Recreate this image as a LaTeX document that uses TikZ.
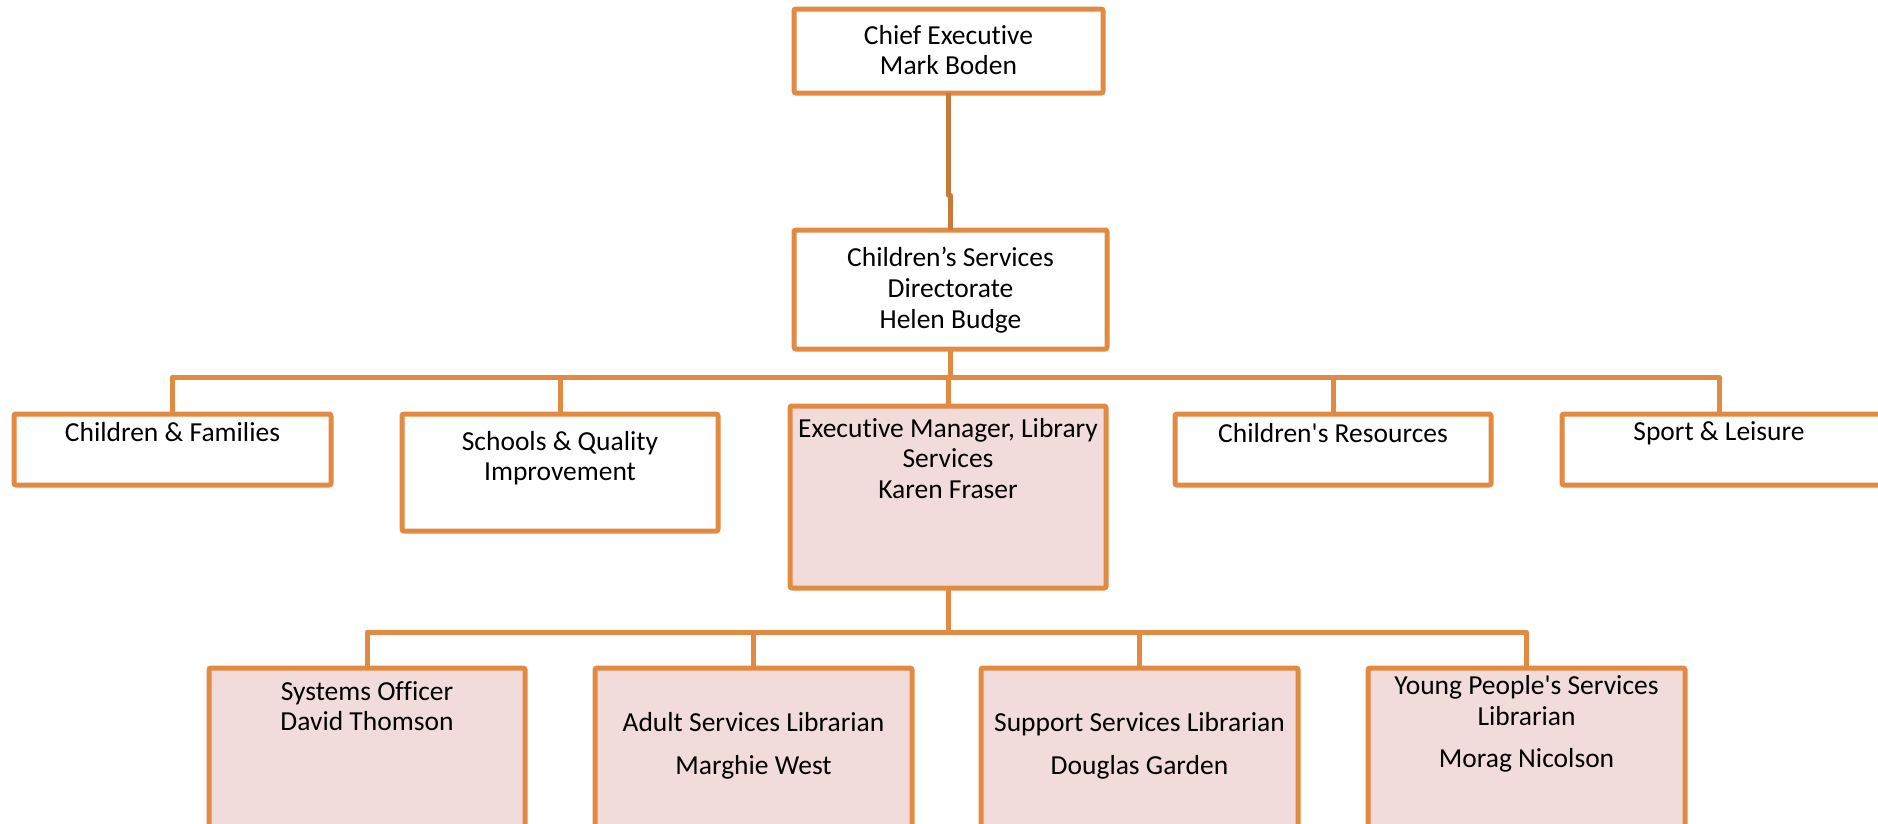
\documentclass[tikz,border=0pt]{standalone}
\usepackage{fontspec}
\setmainfont{Carlito}[Ligatures={NoCommon}]
\definecolor{org}{HTML}{E38A42}
\definecolor{orgdark}{HTML}{C97A38}
\definecolor{pinkfill}{HTML}{F2DCDB}
\tikzset{
  box/.style={draw=org, line width=5pt, rounded corners=2pt, inner sep=0pt, outer sep=0pt, fill=white},
  pbox/.style={box, fill=pinkfill},
  conn/.style={draw=org, line width=5pt, line join=round},
  conndark/.style={draw=orgdark, line width=5pt, line join=round},
  lbl/.style={anchor=north, inner sep=0pt, align=center, text=black, font=\fontsize{27.5pt}{30.7pt}\selectfont}
}
\newcommand{\strt}{\rule{0pt}{24pt}}
\begin{document}
\begin{tikzpicture}[x=1pt,y=-1pt]
\useasboundingbox (0,0) rectangle (1878,823);
% boxes
\node[box, minimum width=309pt, minimum height=84pt] (chief) at (948.5,51) {};
\node[box, minimum width=313pt, minimum height=119pt] (dir) at (950.5,289.5) {};
\node[box, minimum width=317pt, minimum height=71pt] (cf) at (172.5,449.5) {};
\node[box, minimum width=316pt, minimum height=117pt] (sq) at (560,472.5) {};
\node[pbox, minimum width=316pt, minimum height=182pt] (em) at (948,497) {};
\node[box, minimum width=316pt, minimum height=71pt] (cr) at (1333,449.5) {};
\node[box, minimum width=320pt, minimum height=71pt] (sp) at (1722,449.5) {};
\node[pbox, minimum width=316pt, minimum height=202pt] (so) at (367,769) {};
\node[pbox, minimum width=317pt, minimum height=202pt] (as) at (753.5,769) {};
\node[pbox, minimum width=317pt, minimum height=202pt] (ss) at (1139.5,769) {};
\node[pbox, minimum width=317pt, minimum height=202pt] (yp) at (1526.5,769) {};
% connectors
\coordinate (bus1) at (0,377);
\coordinate (bus2) at (0,632);
\draw[conndark] (chief.south) -- ++(0,102) -| (dir.north);
\draw[conn] (dir.south) -- (dir.south |- bus1);
\draw[conn] (cf.north) -- (cf.north |- bus1) -- ([xshift=-3pt]sp.north |- bus1) -- ([xshift=-3pt]sp.north);
\draw[conn] (sq.north) -- (sq.north |- bus1);
\draw[conn] (em.north) -- (em.north |- bus1);
\draw[conn] (cr.north) -- (cr.north |- bus1);
\draw[conn] (em.south) -- (em.south |- bus2);
\draw[conn] (so.north) -- (so.north |- bus2) -- (yp.north |- bus2) -- (yp.north);
\draw[conn] (as.north) -- (as.north |- bus2);
\draw[conn] (ss.north) -- (ss.north |- bus2);
% labels
\node[lbl] (tchief) at (948.5,20) {\strt Chief Executive\\Mark Boden};
\node[lbl] (tdir) at (950.5,242.7) {\strt Children’s Services\\Directorate\\Helen Budge};
\node[lbl] (tcf) at (172.5,417.7) {\strt Children \& Families};
\node[lbl] (tsq) at (560,426) {\strt Schools \& Quality\\Improvement};
\node[lbl] (tem) at (948,413) {\strt Executive Manager, Library\\Services\\Karen Fraser};
\node[lbl] (tcr) at (1333,418.6) {\strt Children\textquotesingle s Resources};
\node[lbl] (tsp) at (1719,416.7) {\strt Sport \& Leisure};
\node[lbl] (tso) at (367,676) {\strt Systems Officer\\David Thomson};
\node[lbl] (tas) at (753.5,707) {\strt Adult Services Librarian\\[12.5pt]Marghie West};
\node[lbl] (tss) at (1139.5,707) {\strt Support Services Librarian\\[12.5pt]Douglas Garden};
\node[lbl] (typ) at (1526.5,670.3) {\strt Young People\textquotesingle s Services\\Librarian\\[11.5pt]Morag Nicolson};
\end{tikzpicture}
\end{document}
